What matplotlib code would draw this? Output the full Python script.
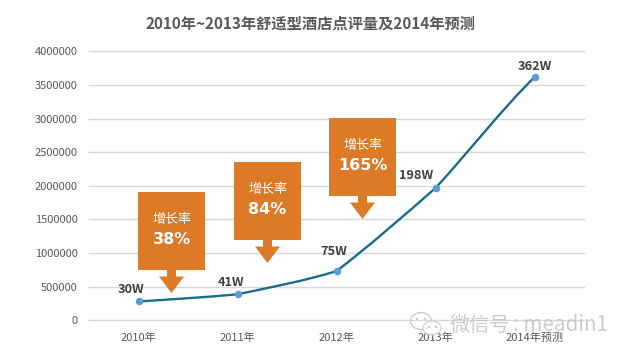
import matplotlib
matplotlib.use('Agg')
import matplotlib.pyplot as plt
from matplotlib.path import Path
from matplotlib.patches import PathPatch, Polygon, Ellipse, Circle

plt.rcParams['font.family'] = ['Noto Sans CJK SC', 'DejaVu Sans']

W, H = 634, 358
AX_L, AX_R, AX_T, AX_B = 89, 584, 51.3, 320.3

years = ['2010年', '2011年', '2012年', '2013年', '2014年预测']
hotels = [280000, 387000, 732000, 1967000, 3615000]
point_labels = ['30W', '41W', '75W', '198W', '362W']
y_ticks = [0, 500000, 1000000, 1500000, 2000000, 2500000, 3000000, 3500000, 4000000]

# label offsets from the point, in px
label_off = [(-7, 12), (-6, 12), (-3, 20), (-19, 13), (0, 11)]

growth = ['38%', '84%', '165%']
# box left, box top, box bottom, tip y  (px on the image)
boxes = [(138, 192, 270, 293), (234, 162, 240, 263), (329, 118, 196, 219)]

ORANGE = '#dc7a28'
GREY = '#595959'

fig = plt.figure(figsize=(W / 100, H / 100), dpi=100, facecolor='white')
ax = fig.add_axes([AX_L / W, 1 - AX_B / H, (AX_R - AX_L) / W, (AX_B - AX_T) / H])

ax.set_xlim(-0.5, 4.5)
ax.set_ylim(0, 4000000)
ax.set_xticks(range(5))
ax.set_xticklabels(years)
ax.set_yticks(y_ticks)
ax.set_yticklabels([str(v) for v in y_ticks])
ax.tick_params(length=0, labelsize=8, labelcolor=GREY)
ax.tick_params(axis='x', pad=9)
ax.tick_params(axis='y', pad=8)
ax.grid(axis='y', color='#d9d9d9', lw=1, clip_on=False)
ax.set_axisbelow(True)
for s in ax.spines.values():
    s.set_visible(False)

# slightly smoothed line, the reference is almost straight between points
xs = list(range(5))
verts = [(xs[0], hotels[0])]
codes = [Path.MOVETO]
for i in range(4):
    p0 = hotels[max(i - 1, 0)]
    p3 = hotels[min(i + 2, 4)]
    verts += [(i + 1 / 3, hotels[i] + ((hotels[i + 1] - hotels[i]) / 3 * 0.75 + (hotels[i + 1] - p0) / 6 * 0.25)),
              (i + 2 / 3, hotels[i + 1] - ((hotels[i + 1] - hotels[i]) / 3 * 0.75 + (p3 - hotels[i]) / 6 * 0.25)),
              (i + 1, hotels[i + 1])]
    codes += [Path.CURVE4, Path.CURVE4, Path.CURVE4]
ax.add_patch(PathPatch(Path(verts, codes), fill=False, ec='#1b6b8c', lw=1.7, clip_on=False))
ax.plot(xs, hotels, ls='none', marker='o', ms=4.4, mfc='#5b9bd5', mec='#5b9bd5', clip_on=False)

for x, v, t, off in zip(xs, hotels, point_labels, label_off):
    ax.annotate(t, (x, v), xytext=(off[0] * 0.72, off[1] * 0.72), textcoords='offset points',
                ha='center', va='center', fontsize=9.2, fontweight='bold', color='#404040')

# overlay in image pixels for callouts, title, watermark
ov = fig.add_axes([0, 0, 1, 1], facecolor='none')
ov.set_xlim(0, W)
ov.set_ylim(H, 0)
ov.axis('off')

ov.text(311, 24, '2010年~2013年舒适型酒店点评量及2014年预测', ha='center', va='center',
        fontsize=11, fontweight='bold', color=GREY)

for (l, t, b, tip), g in zip(boxes, growth):
    c = l + 33.5
    r = l + 67
    shape = [(l, t), (r, t), (r, b), (c + 4.5, b), (c + 4.5, b + 6.5), (c + 12.5, b + 6.5), (c, tip),
             (c - 12.5, b + 6.5), (c - 4.5, b + 6.5), (c - 4.5, b), (l, b)]
    ov.add_patch(Polygon(shape, closed=True, fc=ORANGE, ec='none'))
    ov.text(c, t + 27.5, '增长率', ha='center', va='center', fontsize=9.4, color='white')
    ov.text(c, t + 47, g, ha='center', va='center', fontsize=11.5, fontweight='bold', color='white',
            family=['DejaVu Sans'])

# watermark
wm = '#cccccc'
ov.add_patch(Ellipse((421, 321), 21, 17, fc='none', ec=wm, lw=1))
ov.add_patch(Ellipse((432, 328), 18, 14, fc='white', ec=wm, lw=1, alpha=0.8))
for ex, ey in [(417, 319), (425, 319), (429, 327), (436, 327)]:
    ov.add_patch(Circle((ex, ey), 1.2, fc=wm, ec='none'))
ov.text(450, 325, '微信号', ha='left', va='center', fontsize=14.5, color='#c4c4c4', alpha=0.85)
ov.text(513, 325, ': meadin1', ha='left', va='center', fontsize=14.8, color='#c4c4c4', alpha=0.85,
        fontweight='light')

fig.savefig('out.png', dpi=100)
